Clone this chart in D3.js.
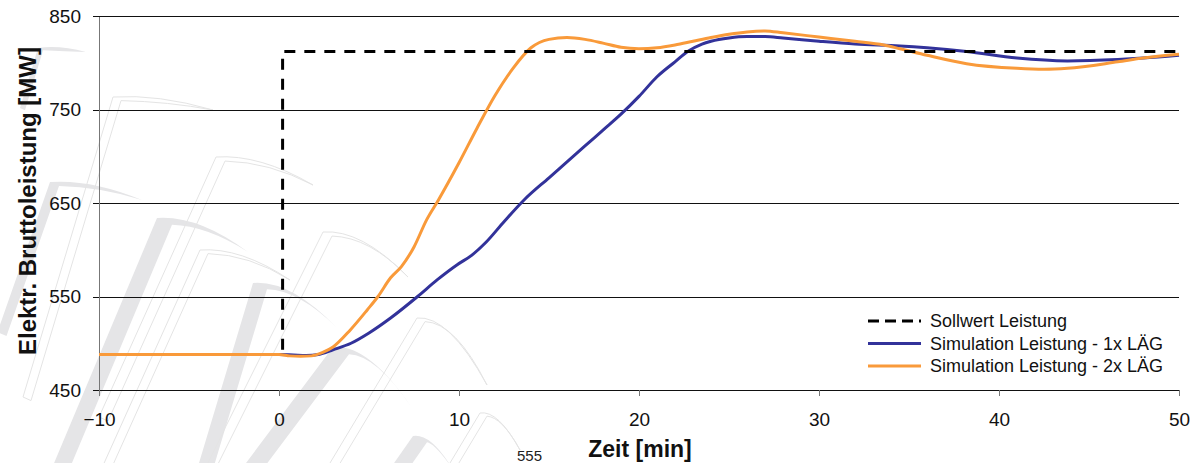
<!DOCTYPE html>
<html>
<head>
<meta charset="utf-8">
<script src="https://cdn.jsdelivr.net/npm/d3@7"></script>
<style>
  body { margin: 0; background: #fff; }
  svg { display: block; }
</style>
</head>
<body>
<div id="chart"></div>
<script>
// data
var xTicks = [-10, 0, 10, 20, 30, 40, 50];
var yTicks = [450, 550, 650, 750, 850];

var sollTime = [0.2, 0.2, 50];
var sollValue = [493, 812, 812];

var time1x = [-10, 0, 0.8, 1.5, 2.2, 3, 4, 5, 6.2, 7.7, 8.8, 9.9, 10.7, 11.5, 12.5, 13.6, 15, 16, 17, 18, 19, 20, 21, 22, 22.7, 23.5, 24, 25, 26, 27, 28, 30, 32, 34.5, 36, 38.2, 41, 43.8, 46.6, 48, 50];
var value1x = [488, 488, 487.5, 487, 488, 493, 500, 511, 527, 550, 568, 584, 594, 608, 630, 653, 677, 694, 711, 728, 745, 764, 785, 801, 812, 820, 823, 826.5, 828, 828, 826.5, 823, 820, 818, 816, 812, 805, 802, 803.5, 805, 808];

var time2x = [-10, 0, 0.6, 1.2, 1.8, 2.4, 3, 3.95, 4.9, 5.5, 6.2, 6.8, 7.5, 8.2, 8.85, 10, 11, 12, 13, 14, 15, 16, 17, 18, 19, 20, 21, 22, 23, 24, 25, 26, 27, 28, 30, 32, 33.6, 34.5, 36, 38.2, 41, 42.5, 43.8, 46.6, 48, 50];
var value2x = [488, 488, 486.5, 486, 486.5, 490, 496, 514, 535.6, 550, 570, 582, 603, 632, 653, 693, 730, 765, 794, 816, 825, 827, 825, 821, 816.5, 815, 816, 819, 823, 827, 830.5, 833, 834, 832, 827.5, 823, 819, 815, 808, 799, 794, 793, 794, 801, 805, 809];

var legendLabels = ["Sollwert Leistung", "Simulation Leistung - 1x LÄG", "Simulation Leistung - 2x LÄG"];

function main() {
  var canvasWidth = 1192;
  var canvasHeight = 463;
  var left = 99, right = 1179, top = 16, bottom = 390;
  var font = "'Liberation Sans', Arial, sans-serif";
  var blue = "#32329a";
  var orange = "#f99a3a";

  var svg = d3.select("#chart").append("svg")
      .attr("width", canvasWidth)
      .attr("height", canvasHeight)
      .style("font-family", font);

  var xScale = d3.scaleLinear().domain([-10, 50]).range([left, right]);
  var yScale = d3.scaleLinear().domain([450, 850]).range([bottom, top]);

  // faint watermark in the background (decoration, not data)
  function swoosh(ax, ay, tx, ty, dx, len, w) {
    var p = d3.path();
    var cx = ax + w, cy = ay + w * 0.45;
    p.moveTo(ax + dx * len, ay + len);
    p.lineTo(ax, ay);
    p.quadraticCurveTo(ax + (tx - ax) * 0.45, ay - 3, tx, ty);
    p.quadraticCurveTo(ax + (tx - ax) * 0.55, cy + 1, cx, cy);
    p.lineTo(cx + dx * len, cy + len);
    p.closePath();
    return p.toString();
  }
  var wm = svg.append("g");
  [[157, 218, 248, 252, -0.42, 260, 15],
   [253, 283, 337, 328, -0.3, 190, 14],
   [333, 347, 412, 408, -0.75, 130, 16],
   [413, 436, 452, 468, -0.7, 40, 14],
   [50, 182, 142, 200, -0.35, 150, 9],
   [38, 48, 86, 52, -0.3, 60, 5]].forEach(function(s) {
    wm.append("path").attr("d", swoosh.apply(null, s)).attr("fill", "#e5e5e7");
  });
  [[216, 157, 313, 185, -0.45, 260, 9],
   [323, 232, 408, 277, -0.5, 240, 9],
   [417, 318, 487, 385, -0.6, 150, 8],
   [480, 413, 520, 450, -0.6, 60, 7],
   [113, 97, 213, 110, -0.3, 300, 8],
   [200, 250, 290, 280, -0.45, 220, 8]].forEach(function(s) {
    wm.append("path").attr("d", swoosh.apply(null, s))
      .attr("fill", "none").attr("stroke", "#e4e4e4").attr("stroke-width", 1);
  });

  // gridlines
  svg.append("g")
      .attr("transform", "translate(" + left + ",0)")
      .attr("shape-rendering", "crispEdges")
      .call(d3.axisLeft(yScale).tickValues(yTicks).tickSize(-(right - left)).tickFormat(""))
      .call(function(g) {
        g.select(".domain").remove();
        g.selectAll("line").attr("stroke", "#111").attr("stroke-width", 1);
      });

  // y axis
  svg.append("g")
      .attr("transform", "translate(" + left + ",0)")
      .attr("shape-rendering", "crispEdges")
      .call(d3.axisLeft(yScale).tickValues(yTicks).tickSize(6).tickPadding(12).tickSizeOuter(0))
      .call(function(g) {
        g.select(".domain").attr("stroke", "#777");
        g.selectAll("line").attr("stroke", "#111");
        g.selectAll("text").attr("font-size", "19px").attr("font-family", font).attr("fill", "#111");
      });

  // x axis
  svg.append("g")
      .attr("transform", "translate(0," + bottom + ")")
      .attr("shape-rendering", "crispEdges")
      .call(d3.axisBottom(xScale).tickValues(xTicks).tickSize(6).tickPadding(17).tickSizeOuter(0))
      .call(function(g) {
        g.select(".domain").attr("stroke", "#111").attr("d", "M" + (left - 6) + ",0H" + right);
        g.selectAll("line").attr("stroke", "#777");
        g.selectAll("text").attr("font-size", "19px").attr("font-family", font).attr("fill", "#111");
      });

  // axis titles
  svg.append("text")
      .attr("transform", "translate(36," + 201 + ") rotate(-90)")
      .attr("text-anchor", "middle")
      .attr("font-size", "24px")
      .attr("font-weight", "bold")
      .attr("fill", "#111")
      .text("Elektr. Bruttoleistung [MW]");

  svg.append("text")
      .attr("x", 640)
      .attr("y", 457)
      .attr("text-anchor", "middle")
      .attr("font-size", "23px")
      .attr("font-weight", "bold")
      .attr("fill", "#111")
      .text("Zeit [min]");

  svg.append("text")
      .attr("x", 517)
      .attr("y", 461)
      .attr("font-size", "15px")
      .attr("fill", "#222")
      .text("555");

  // series
  var smooth = d3.line()
      .x(function(d) { return xScale(d[0]); })
      .y(function(d) { return yScale(d[1]); })
      .curve(d3.curveMonotoneX);
  var straight = d3.line()
      .x(function(d) { return xScale(d[0]); })
      .y(function(d) { return yScale(d[1]); });

  svg.append("path")
      .datum(d3.zip(time1x, value1x))
      .attr("fill", "none")
      .attr("stroke", blue)
      .attr("stroke-width", 3)
      .attr("d", smooth);

  svg.append("path")
      .datum(d3.zip(time2x, value2x))
      .attr("fill", "none")
      .attr("stroke", orange)
      .attr("stroke-width", 3)
      .attr("d", smooth);

  svg.append("path")
      .datum(d3.zip(sollTime, sollValue))
      .attr("fill", "none")
      .attr("stroke", "#000")
      .attr("stroke-width", 3)
      .attr("stroke-dasharray", "11,9")
      .attr("d", straight);

  // legend
  var legend = svg.append("g").attr("transform", "translate(868,321)");
  var styles = [["#000", "11,6"], [blue, null], [orange, null]];
  legendLabels.forEach(function(label, i) {
    var row = legend.append("g").attr("transform", "translate(0," + (i * 22.5) + ")");
    row.append("line")
        .attr("x1", 0).attr("x2", 53)
        .attr("stroke", styles[i][0])
        .attr("stroke-width", 3)
        .attr("stroke-dasharray", styles[i][1]);
    row.append("text")
        .attr("x", 62)
        .attr("dy", "0.35em")
        .attr("font-size", "18px")
        .attr("fill", "#111")
        .text(label);
  });
}

main();
</script>
</body>
</html>
